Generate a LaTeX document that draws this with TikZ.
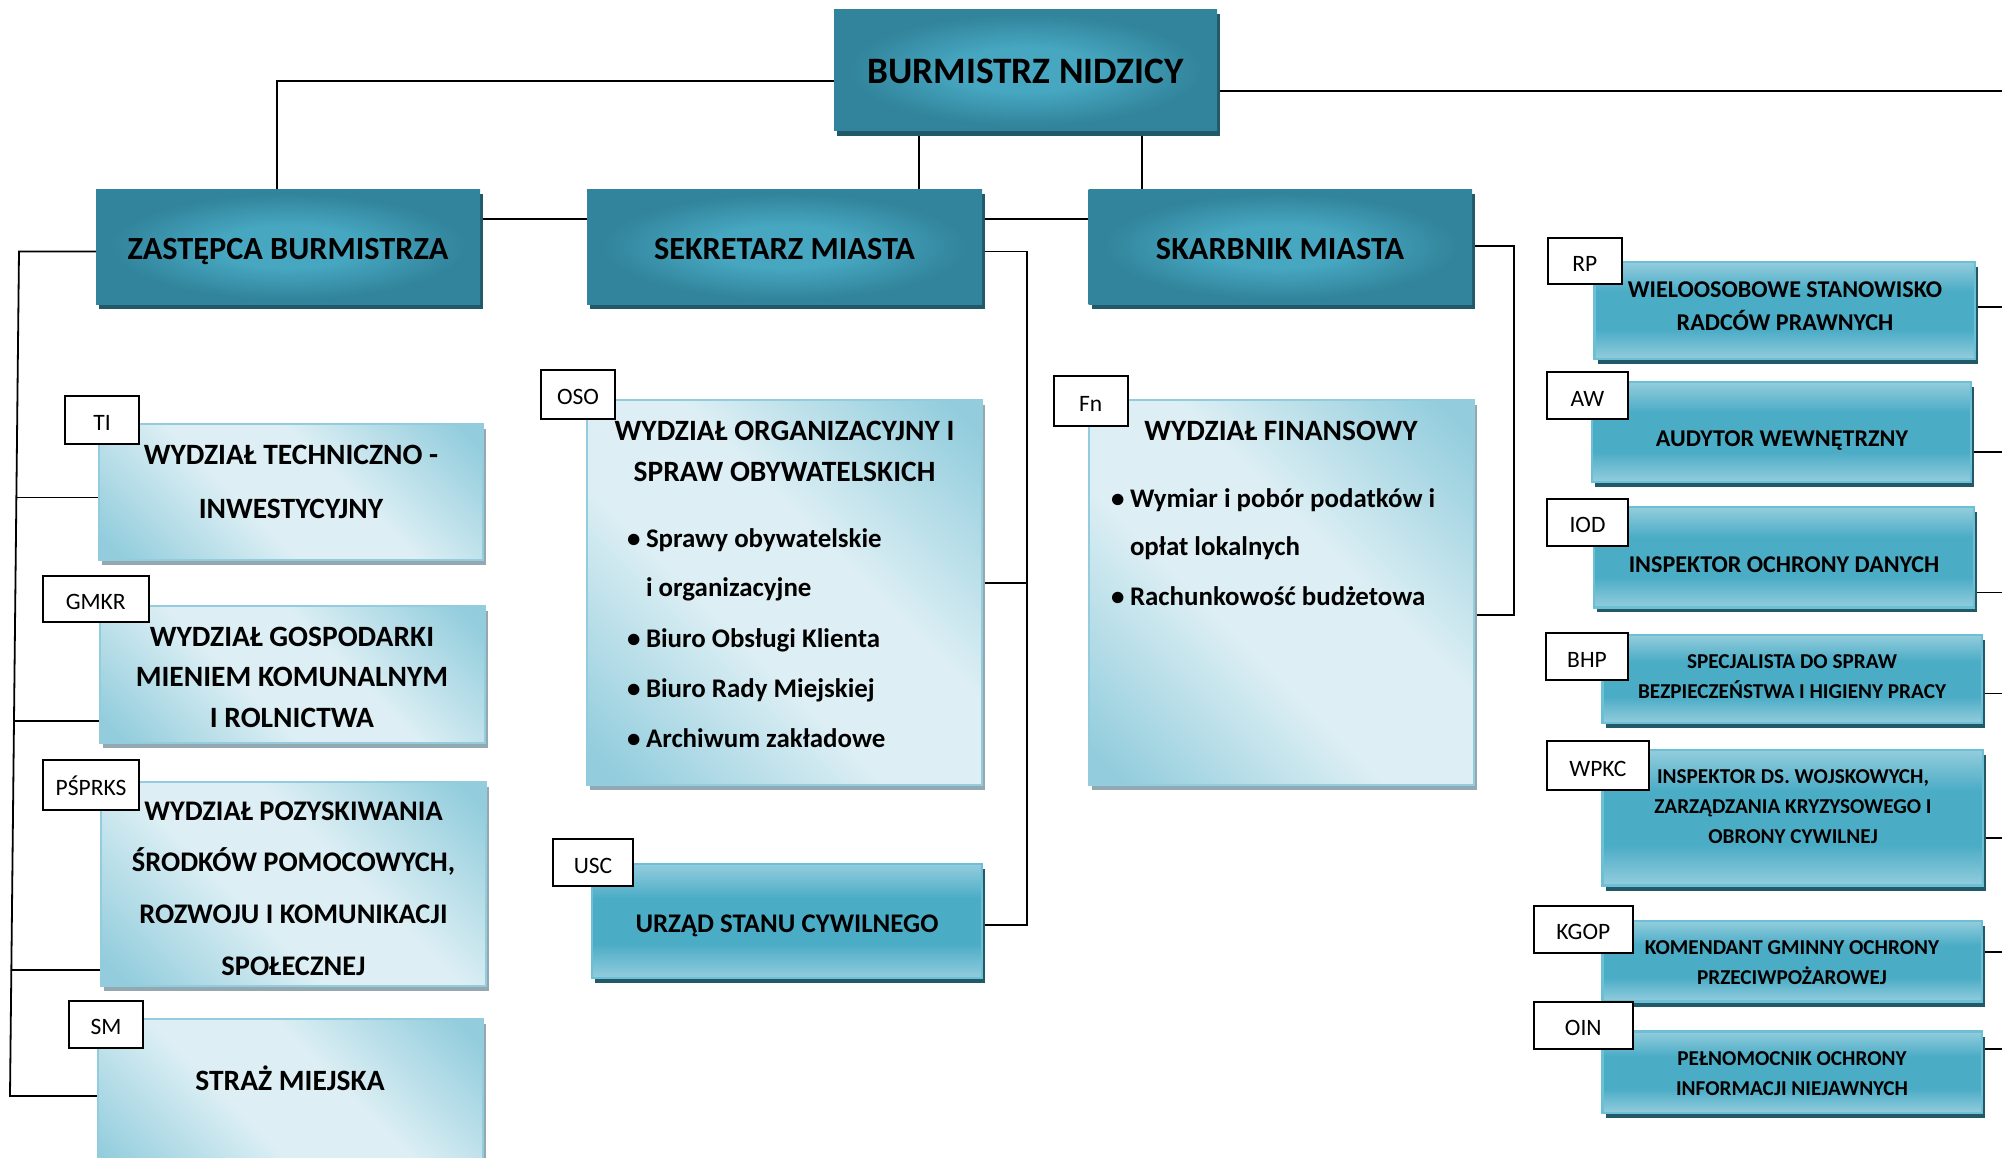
\documentclass[tikz,border=0pt]{standalone}
\usepackage{fontspec}
\setmainfont{Carlito}
\usetikzlibrary{shadows}
\definecolor{dke}{HTML}{31849B}
\definecolor{dkc}{HTML}{47A7C1}
\definecolor{dksh}{HTML}{215968}
\definecolor{lt1}{HTML}{93CDDD}
\definecolor{lt2}{HTML}{DDEFF4}
\definecolor{ltsh}{HTML}{93A8B0}
\definecolor{md1}{HTML}{93CDDD}
\definecolor{md2}{HTML}{4BACC6}
\definecolor{mdb}{HTML}{6DBFD5}
\pgfdeclareradialshading{darkglow}{\pgfpoint{0bp}{0bp}}{color(0bp)=(dkc); color(9bp)=(dkc); color(23bp)=(dke); color(50bp)=(dke)}
\pgfdeclareverticalshading{lightdiag}{100bp}{color(0bp)=(lt1); color(18bp)=(lt1); color(42bp)=(lt2); color(58bp)=(lt2); color(82bp)=(lt1); color(100bp)=(lt1)}
\pgfdeclareverticalshading{midband}{100bp}{color(0bp)=(md1); color(25bp)=(md1); color(40bp)=(md2); color(60bp)=(md2); color(75bp)=(md1); color(100bp)=(md1)}
\pgfdeclarelayer{bg}
\pgfsetlayers{bg,main}
\tikzset{
  darkbox/.style={rectangle, inner sep=0pt, outer sep=0pt, anchor=north west, shade, shading=darkglow,
    drop shadow={shadow xshift=3pt, shadow yshift=-5pt, fill=dksh, opacity=1}},
  lightbox/.style={rectangle, inner sep=0pt, outer sep=0pt, anchor=north west, shade, shading=lightdiag, shading angle=-45,
    draw=lt1, line width=2pt, drop shadow={shadow xshift=3pt, shadow yshift=-5pt, fill=ltsh, opacity=1}},
  midbox/.style={rectangle, inner sep=0pt, outer sep=0pt, anchor=north west, shade, shading=midband,
    draw=mdb, line width=2.5pt, drop shadow={shadow xshift=3pt, shadow yshift=-5pt, fill=dksh, opacity=1}},
  tagbox/.style={rectangle, draw=black, line width=2pt, fill=white, inner sep=0pt, outer sep=0pt, anchor=north west,
    font=\fontsize{23.5}{28}\selectfont, text height=21pt, text depth=0pt},
  conn/.style={draw=black, line width=1.8pt},
  txt/.style={anchor=base, inner sep=0pt, outer sep=0pt},
  txtl/.style={anchor=base west, inner sep=0pt, outer sep=0pt},
  fbur/.style={font=\bfseries\fontsize{37.3}{40}\selectfont},
  fdark/.style={font=\bfseries\fontsize{32.3}{36}\selectfont},
  flt/.style={font=\bfseries\fontsize{29.5}{34}\selectfont},
  fltb/.style={font=\bfseries\fontsize{28.4}{34}\selectfont},
  fbul/.style={font=\bfseries\fontsize{26.9}{30}\selectfont},
  frt/.style={font=\bfseries\fontsize{24.1}{28}\selectfont},
  frs/.style={font=\bfseries\fontsize{21.2}{25}\selectfont},
}
\begin{document}
\begin{tikzpicture}[x=1pt,y=-1pt]
\path[use as bounding box] (0,0) rectangle (2002,1157);
\clip (0,0) rectangle (2002,1157);

% main boxes
\node[darkbox, minimum width=383pt, minimum height=121.7pt] (bur) at (834,9) {};
\node[darkbox, minimum width=384pt, minimum height=115pt] (zas) at (96,189) {};
\node[darkbox, minimum width=395pt, minimum height=115pt] (sek) at (587,189) {};
\node[darkbox, minimum width=383.4pt, minimum height=115pt] (skar) at (1088.6,189) {};

% light boxes
\node[lightbox, minimum width=384pt, minimum height=136pt] (ti) at (99,424) {};
\node[lightbox, minimum width=395pt, minimum height=384.5pt] (oso) at (587,400) {};
\node[lightbox, minimum width=385.4pt, minimum height=384.5pt] (fn) at (1088.6,400) {};
\node[lightbox, minimum width=384.7pt, minimum height=137pt] (gmkr) at (100,606) {};
\node[lightbox, minimum width=385pt, minimum height=203.6pt] (psp) at (101,782) {};
\node[lightbox, minimum width=385.2pt, minimum height=160pt] (sm) at (97.6,1019) {};

% medium boxes
\node[midbox, minimum width=390pt, minimum height=114pt] (usc) at (592,864) {};
\node[midbox, minimum width=380.3pt, minimum height=97pt] (rp) at (1594.7,262) {};
\node[midbox, minimum width=379pt, minimum height=100pt] (aw) at (1592,382) {};
\node[midbox, minimum width=380pt, minimum height=100.4pt] (iod) at (1594,507) {};
\node[midbox, minimum width=379.3pt, minimum height=88pt] (bhp) at (1602.7,635) {};
\node[midbox, minimum width=380.3pt, minimum height=135.6pt] (wpkc) at (1602.7,750) {};
\node[midbox, minimum width=379.3pt, minimum height=80.7pt] (kgop) at (1602.7,921) {};
\node[midbox, minimum width=379.3pt, minimum height=81.4pt] (oin) at (1602.7,1031.6) {};

% junction coordinates
\coordinate (j1) at (277,81);
\coordinate (j2) at (919,0);
\coordinate (j3) at (1141.6,0);
\coordinate (e0) at (2002,90.7);
\coordinate (j4) at (0,219);
\coordinate (s0) at (19,251.5);
\coordinate (s1) at (10,1096);
\coordinate (b1) at (16.4,497.5);
\coordinate (b2) at (14.0,721);
\coordinate (b3) at (11.3,970);
\coordinate (k0) at (1027,251.5);
\coordinate (k1) at (1027,925);
\coordinate (k2) at (1027,583);
\coordinate (m0) at (1514,246);
\coordinate (m1) at (1514,615);
\coordinate (r1) at (2002,307);
\coordinate (r2) at (2002,452);
\coordinate (r3) at (2002,592.5);
\coordinate (r4) at (2002,693.5);
\coordinate (r5) at (2002,838);
\coordinate (r6) at (2002,952);
\coordinate (r7) at (2002,1049);

\begin{pgfonlayer}{bg}
\draw[conn] (bur.west |- j1) -- (j1) -- (zas.north -| j1);
\draw[conn] (bur.south -| j2) -- (sek.north -| j2);
\draw[conn] (bur.south -| j3) -- (skar.north -| j3);
\draw[conn] (bur.east |- e0) -- (e0);
\draw[conn] (zas.east |- j4) -- (sek.west |- j4);
\draw[conn] (sek.east |- j4) -- (skar.west |- j4);
\draw[conn] (zas.west |- s0) -- (s0) -- (s1) -- (sm.west |- s1);
\draw[conn] (b1) -- (ti.west |- b1);
\draw[conn] (b2) -- (gmkr.west |- b2);
\draw[conn] (b3) -- (psp.west |- b3);
\draw[conn] (sek.east |- k0) -- (k0) -- (k1) -- (usc.east |- k1);
\draw[conn] (oso.east |- k2) -- (k2);
\draw[conn] (skar.east |- m0) -- (m0) -- (m1) -- (fn.east |- m1);
\draw[conn] (rp.east |- r1) -- (r1);
\draw[conn] (aw.east |- r2) -- (r2);
\draw[conn] (iod.east |- r3) -- (r3);
\draw[conn] (bhp.east |- r4) -- (r4);
\draw[conn] (wpkc.east |- r5) -- (r5);
\draw[conn] (kgop.east |- r6) -- (r6);
\draw[conn] (oin.east |- r7) -- (r7);
\end{pgfonlayer}

% tags
\node[tagbox, minimum width=74pt, minimum height=48pt] (tagTI) at (65,396) {TI};
\node[tagbox, minimum width=74pt, minimum height=49.5pt] (tagOSO) at (541,369.5) {OSO};
\node[tagbox, minimum width=73.5pt, minimum height=50pt] (tagFn) at (1054,376) {Fn};
\node[tagbox, minimum width=106pt, minimum height=46.8pt] (tagGMKR) at (42.7,575.6) {GMKR};
\node[tagbox, minimum width=96pt, minimum height=50pt] (tagPSP) at (43,760) {PŚPRKS};
\node[tagbox, minimum width=74pt, minimum height=47.5pt] (tagSM) at (69,1000.5) {SM};
\node[tagbox, minimum width=80pt, minimum height=47pt] (tagUSC) at (553,839) {USC};
\node[tagbox, minimum width=74pt, minimum height=46pt] (tagRP) at (1547.7,238) {RP};
\node[tagbox, minimum width=81pt, minimum height=47pt] (tagAW) at (1547,372.3) {AW};
\node[tagbox, minimum width=81pt, minimum height=47pt] (tagIOD) at (1547,498.6) {IOD};
\node[tagbox, minimum width=82pt, minimum height=47pt] (tagBHP) at (1546,633) {BHP};
\node[tagbox, minimum width=101.6pt, minimum height=49pt] (tagWPKC) at (1547,741) {WPKC};
\node[tagbox, minimum width=98.6pt, minimum height=46.6pt] (tagKGOP) at (1534,906) {KGOP};
\node[tagbox, minimum width=98.6pt, minimum height=46.8pt] (tagOIN) at (1534,1001.7) {OIN};

% texts
\node[txt, fbur] (xbur) at (1025.5,83.3) {BURMISTRZ NIDZICY};
\node[txt, fdark] (xzas) at (288,259) {ZASTĘPCA BURMISTRZA};
\node[txt, fdark] (xsek) at (784.5,259) {SEKRETARZ MIASTA};
\node[txt, fdark] (xskar) at (1280,259) {SKARBNIK MIASTA};

\node[txt, flt] (xti1) at (291,464) {WYDZIAŁ TECHNICZNO -};
\node[txt, flt] (xti2) at (291,518) {INWESTYCYJNY};

\node[txt, flt] (xoso1) at (784.5,440) {WYDZIAŁ ORGANIZACYJNY I};
\node[txt, flt] (xoso2) at (784.5,481.6) {SPRAW OBYWATELSKICH};
\node[txtl, fbul] (xoso3) at (627,547) {\makebox[19pt][l]{•}Sprawy obywatelskie};
\node[txtl, fbul] (xoso4) at (646,596) {i organizacyjne};
\node[txtl, fbul] (xoso5) at (627,647) {\makebox[19pt][l]{•}Biuro Obsługi Klienta};
\node[txtl, fbul] (xoso6) at (627,697) {\makebox[19pt][l]{•}Biuro Rady Miejskiej};
\node[txtl, fbul] (xoso7) at (627,747) {\makebox[19pt][l]{•}Archiwum zakładowe};

\node[txt, flt] (xfn1) at (1281,440) {WYDZIAŁ FINANSOWY};
\node[txtl, fbul] (xfn2) at (1111,507) {\makebox[19pt][l]{•}Wymiar i pobór podatków i};
\node[txtl, fbul] (xfn3) at (1130,555.5) {opłat lokalnych};
\node[txtl, fbul] (xfn4) at (1111,605.6) {\makebox[19pt][l]{•}Rachunkowość budżetowa};

\node[txt, flt] (xgm1) at (292,646) {WYDZIAŁ GOSPODARKI};
\node[txt, flt] (xgm2) at (292,686.8) {MIENIEM KOMUNALNYM};
\node[txt, flt] (xgm3) at (292,727) {I ROLNICTWA};

\node[txt, fltb] (xps1) at (293.5,820) {WYDZIAŁ POZYSKIWANIA};
\node[txt, fltb] (xps2) at (293.5,871.8) {ŚRODKÓW POMOCOWYCH,};
\node[txt, fltb] (xps3) at (293.5,923) {ROZWOJU I KOMUNIKACJI};
\node[txt, fltb] (xps4) at (293.5,975.5) {SPOŁECZNEJ};

\node[txt, flt] (xsm) at (290,1090) {STRAŻ MIEJSKA};
\node[txt, fbul] (xusc) at (787,932.4) {URZĄD STANU CYWILNEGO};

\node[txt, frt] (xrp1) at (1785,297.3) {WIELOOSOBOWE STANOWISKO};
\node[txt, frt] (xrp2) at (1785,330) {RADCÓW PRAWNYCH};
\node[txt, frt] (xaw) at (1782,446.7) {AUDYTOR WEWNĘTRZNY};
\node[txt, frt] (xiod) at (1784,572.8) {INSPEKTOR OCHRONY DANYCH};
\node[txt, frs] (xbhp1) at (1792,668) {SPECJALISTA DO SPRAW};
\node[txt, frs] (xbhp2) at (1792,698) {BEZPIECZEŃSTWA I HIGIENY PRACY};
\node[txt, frs] (xwp1) at (1793,783.4) {INSPEKTOR DS. WOJSKOWYCH,};
\node[txt, frs] (xwp2) at (1793,813.4) {ZARZĄDZANIA KRYZYSOWEGO I};
\node[txt, frs] (xwp3) at (1793,843.3) {OBRONY CYWILNEJ};
\node[txt, frs] (xkg1) at (1792,954.5) {KOMENDANT GMINNY OCHRONY};
\node[txt, frs] (xkg2) at (1792,984.5) {PRZECIWPOŻAROWEJ};
\node[txt, frs] (xoi1) at (1792,1065) {PEŁNOMOCNIK OCHRONY};
\node[txt, frs] (xoi2) at (1792,1095) {INFORMACJI NIEJAWNYCH};
\end{tikzpicture}
\end{document}
